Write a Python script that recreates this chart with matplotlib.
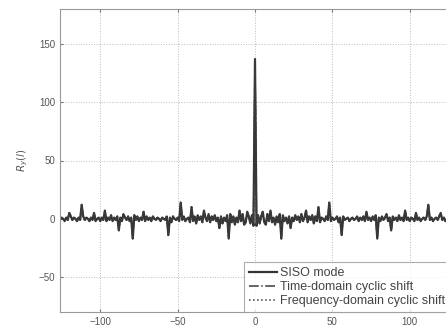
import matplotlib
matplotlib.use("Agg")
import matplotlib.pyplot as plt
import numpy as np

plt.rcParams['font.family'] = ['Liberation Sans', 'DejaVu Sans']

lags = list(range(-127, 128))

siso = [2, -1, 1, 0, -2, 1, -1, 5, 2, -1, 1, 0, -2, 1, -1, 12, 2, -1, 1, 0,
        -2, 1, -1, 5, -2, 0, 1, -2, 1, -1, 7, -2, 1, -1, 3, -2, 1, -1, 2, -10,
        1, -2, 4, 1, -1, 2, -2, 1, -17, 3, -1, 2, -2, 1, -1, 6, -2, 2, -1, 1,
        -2, 2, 0, -1, 1, 0, -2, 1, 0, -1, 2, -14, 1, -3, 2, 0, -1, 1, -2, 14,
        -1, 2, -2, 0, 1, -3, 10, -2, 2, -4, 3, -1, 2, -3, 7, 1, -2, 4, -3, 2,
        -1, 3, -2, 1, -8, 2, -4, 1, -2, 3, -17, 4, -3, 2, -5, 1, -3, 7, -2, 4,
        -5, -3, 6, 2, -4, 3, -6,
        137,
        -6, 3, -4, 2, 6, -3, -5, 4, -2, 7, -3, 1, -5, 2, -3, 4, -17, 3, -2, 1,
        -4, 2, -8, 1, -2, 3, -1, 2, -3, 4, -2, 1, 7, -3, 2, -1, 3, -4, 2, -2,
        10, -3, 1, 0, -2, 2, -1, 14, -2, 1, -1, 0, 2, -3, 1, -14, 2, -1, 0, 1,
        -2, 0, 1, -1, 0, 2, -2, 1, -1, 2, -2, 6, -1, 1, -2, 2, -1, 3, -17, 1,
        -2, 2, -1, 1, 4, -2, 1, -10, 2, -1, 1, -2, 3, -1, 1, -2, 7, -1, 1, -2,
        1, 0, -2, 5, -1, 1, -2, 0, 1, -1, 2, 12, -1, 1, -2, 0, 1, -1, 2, 5,
        -1, 1, -2, 0, 1, -1, 2]
time_shift = siso
freq_shift = siso

xticks = [-100, -50, 0, 50, 100]
yticks = [-50, 0, 50, 100, 150]

W, H = 446, 330
fig = plt.figure(figsize=(W / 100, H / 100), dpi=100)
ax = fig.add_axes([60 / W, 18 / H, 390 / W, 303 / H])

gray = "#555555"
ax.plot(lags, siso, color="#333333", lw=1.6, ls="-", label="SISO mode")
ax.plot(lags, time_shift, color="#3a3a3a", lw=1.1, ls="-.", label="Time-domain cyclic shift")
ax.plot(lags, freq_shift, color="#3a3a3a", lw=1.1, ls=":", label="Frequency-domain cyclic shift")

ax.set_xlim(-126, 126)
ax.set_ylim(-80, 180)
ax.set_xticks(xticks)
ax.set_yticks(yticks)
ax.grid(True, ls=":", color="#bbbbbb", lw=0.7)
ax.tick_params(direction="in", length=2, labelsize=7, colors="#777777",
               labelcolor=gray, top=True, right=True)
for s in ax.spines.values():
    s.set_color("#999999")
    s.set_linewidth(0.8)
ax.set_ylabel(r"$R_y(l)$", fontsize=7.5, color=gray, labelpad=6)

leg = ax.legend(loc="lower right", fontsize=9, frameon=True, fancybox=False,
                borderaxespad=0.0, handlelength=2.2, handletextpad=0.25,
                labelspacing=0.15, borderpad=0.4)
leg.get_frame().set_edgecolor("#999999")
leg.get_frame().set_linewidth(0.8)
for t in leg.get_texts():
    t.set_color("#444444")

fig.savefig("out.png", dpi=100)
